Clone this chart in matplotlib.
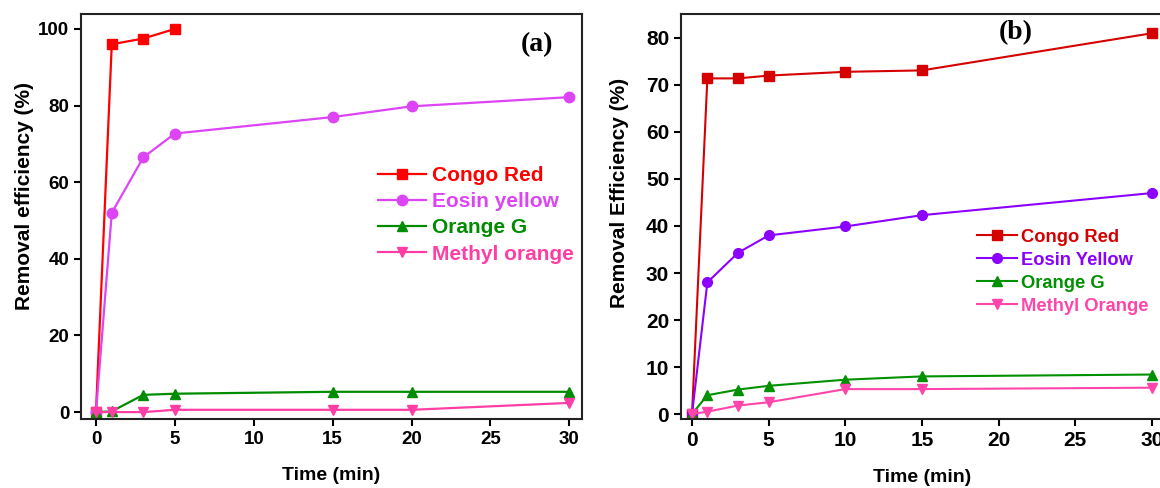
import matplotlib
matplotlib.use("Agg")
import matplotlib.pyplot as plt

plt.rcParams.update({"font.family": "Liberation Sans", "font.weight": "bold"})

W, H = 1160, 488

# ── panel (a) data ──
time_a = [0, 1, 3, 5, 15, 20, 30]
congo_a_t = [0, 1, 3, 5]
congo_a = [0, 96.0, 97.5, 100.0]
eosin_a = [0, 52.0, 66.5, 72.7, 77.0, 79.8, 82.2]
orange_a = [0, 0.2, 4.5, 4.8, 5.3, 5.3, 5.3]
methyl_a = [0, 0, 0, 0.6, 0.6, 0.6, 2.4]

# ── panel (b) data ──
time_b = [0, 1, 3, 5, 10, 15, 30]
congo_b = [0, 71.4, 71.4, 72.0, 72.8, 73.1, 81.0]
eosin_b = [0, 28.0, 34.3, 38.0, 39.9, 42.3, 47.0]
orange_b = [0, 4.0, 5.2, 6.0, 7.3, 8.0, 8.4]
methyl_b = [0, 0.5, 1.8, 2.5, 5.3, 5.3, 5.6]

names_a = ["Congo Red", "Eosin yellow", "Orange G", "Methyl orange"]
names_b = ["Congo Red", "Eosin Yellow", "Orange G", "Methyl Orange"]

COL_A = ["#FF0000", "#DD44F5", "#008C00", "#FF3EA5"]
COL_B = ["#D50000", "#8B00FF", "#009000", "#FF45AA"]
MARK = ["s", "o", "^", "v"]


def px_axes(fig, x0, x1, y0, y1):
    return fig.add_axes([x0 / W, (H - y1) / H, (x1 - x0) / W, (y1 - y0) / H])


def style(ax, fs):
    for s in ["left", "bottom", "top", "right"]:
        ax.spines[s].set_linewidth(1.5)
        ax.spines[s].set_color("#222222")
    ax.tick_params(direction="out", length=5, width=1.5, labelsize=fs,
                   top=False, right=False)
    for lab in ax.get_xticklabels() + ax.get_yticklabels():
        lab.set_fontweight("bold")


fig = plt.figure(figsize=(W / 100, H / 100), dpi=100)
fig.patch.set_facecolor("white")

# ═════ panel (a) ═════
ax1 = px_axes(fig, 81, 582, 14, 419)
series_a = [(congo_a_t, congo_a), (time_a, eosin_a), (time_a, orange_a), (time_a, methyl_a)]
for (t, v), c, m, n in zip(series_a, COL_A, MARK, names_a):
    ax1.plot(t, v, color=c, marker=m, ms=7.5, lw=1.6, label=n)
ax1.set_xlim(-0.95, 30.8)
ax1.set_ylim(-1.8, 103.9)
ax1.set_xticks([0, 5, 10, 15, 20, 25, 30])
ax1.set_yticks([0, 20, 40, 60, 80, 100])
style(ax1, 13.5)
ax1.set_xlabel("Time (min)", fontsize=14, fontweight="bold", labelpad=14)
ax1.set_ylabel("Removal efficiency (%)", fontsize=15, fontweight="bold")
ax1.yaxis.set_label_coords(-0.094, 0.55)
ax1.text(0.91, 0.925, "(a)", transform=ax1.transAxes, ha="center", va="center",
         fontsize=20, fontweight="bold", family="Liberation Serif")
ax1.legend(loc="upper left", bbox_to_anchor=(0.593, 0.625), frameon=False,
           borderpad=0, borderaxespad=0, handlelength=2.3, handletextpad=0.3,
           labelspacing=0.35, labelcolor="linecolor",
           prop={"weight": "bold", "size": 15})

# ═════ panel (b) ═════
ax2 = px_axes(fig, 681, 1164, 14, 419)
for v, c, m, n in zip([congo_b, eosin_b, orange_b, methyl_b], COL_B, MARK, names_b):
    ax2.plot(time_b, v, color=c, marker=m, ms=7, lw=1.5, label=n)
ax2.set_xlim(-0.72, 30.8)
ax2.set_ylim(-1.06, 85.1)
ax2.set_xticks([0, 5, 10, 15, 20, 25, 30])
ax2.set_yticks([0, 10, 20, 30, 40, 50, 60, 70, 80])
style(ax2, 15)
ax2.set_xlabel("Time (min)", fontsize=14, fontweight="bold", labelpad=14)
ax2.set_ylabel("Removal Efficiency (%)", fontsize=15, fontweight="bold")
ax2.yaxis.set_label_coords(-0.107, 0.558)
ax2.text(0.693, 0.955, "(b)", transform=ax2.transAxes, ha="center", va="center",
         fontsize=20, fontweight="bold", family="Liberation Serif")
ax2.legend(loc="upper left", bbox_to_anchor=(0.612, 0.47), frameon=False,
           borderpad=0, borderaxespad=0, handlelength=2.2, handletextpad=0.2,
           labelspacing=0.33, labelcolor="linecolor",
           prop={"weight": "bold", "size": 13.2})

fig.savefig("out.png", dpi=100)
